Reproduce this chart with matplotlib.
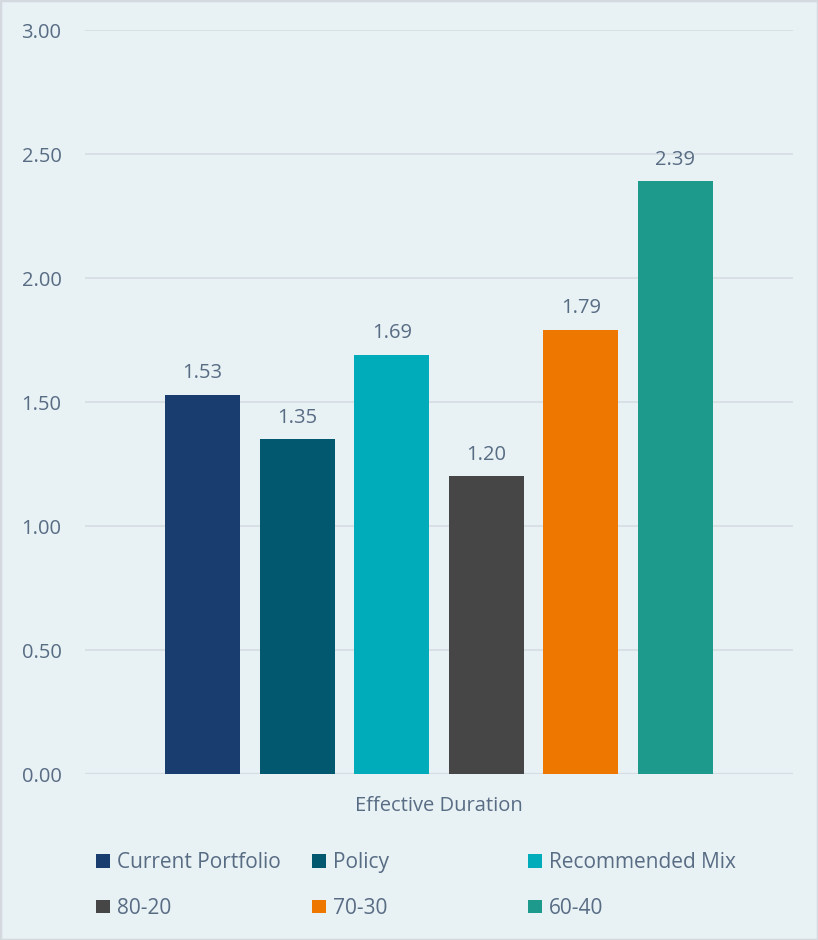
import matplotlib
matplotlib.use("Agg")
import matplotlib.pyplot as plt
from matplotlib.patches import Rectangle

# chart data
series = ["Current Portfolio", "Policy", "Recommended Mix", "80-20", "70-30", "60-40"]
values = [1.53, 1.35, 1.69, 1.20, 1.79, 2.39]
colors = ["#193D6E", "#02586F", "#00ACBA", "#464646", "#EE7700", "#1E9A8C"]
category = "Effective Duration"
yticks = [0.0, 0.5, 1.0, 1.5, 2.0, 2.5, 3.0]

BG = "#E8F1F4"
GRID = "#D5DDE2"
TEXT = "#586C84"
FONT = "Open Sans"

plt.rcParams["font.family"] = [FONT, "DejaVu Sans"]

fig = plt.figure(figsize=(8.18, 9.4), dpi=100)
fig.patch.set_facecolor(BG)
ax = fig.add_axes([85 / 818, 166 / 940, 708 / 818, 744 / 940])
ax.set_facecolor(BG)

bars = []
for i, (name, val, col) in enumerate(zip(series, values, colors)):
    b = ax.bar(i, val, width=0.795, color=col, label=name, zorder=3)
    bars.append(b)
    ax.annotate(f"{val:.2f}", (i, val), xytext=(0, 12), textcoords="offset points",
                ha="center", va="baseline", fontsize=14.5, color=TEXT)

ax.set_xlim(-1.245, len(series) - 1 + 1.245)
ax.set_ylim(0, 3.0)
ax.set_yticks(yticks)
ax.set_yticklabels([f"{t:.2f}" for t in yticks])
ax.tick_params(axis="y", length=0, pad=17, labelsize=14.5, labelcolor=TEXT)
ax.set_xticks([])
for s in ax.spines.values():
    s.set_visible(False)
ax.grid(axis="y", color=GRID, linewidth=1.2, zorder=0)
ax.axhline(0, color=GRID, linewidth=1.6, zorder=2)

fig.text(438.5 / 818, 1 - 806 / 940, category, ha="center", va="center",
         fontsize=14.5, color=TEXT)

# legend: three columns, two rows each
col_x = [96, 312, 528]
for c in range(3):
    handles = [bars[c], bars[c + 3]]
    leg = fig.legend(handles=handles, labels=[series[c], series[c + 3]],
                     loc="upper left", bbox_to_anchor=(col_x[c] / 818, 1 - 852 / 940),
                     frameon=False, fontsize=15, labelcolor=TEXT,
                     handlelength=0.65, handleheight=0.65, handletextpad=0.35,
                     labelspacing=1.19, borderpad=0, borderaxespad=0)

# outer border
fig.patches.append(Rectangle((0, 0), 1, 1, transform=fig.transFigure, fill=False,
                             edgecolor="#D3D9DE", linewidth=2.5))

fig.savefig("out.png", dpi=100, facecolor=BG)
